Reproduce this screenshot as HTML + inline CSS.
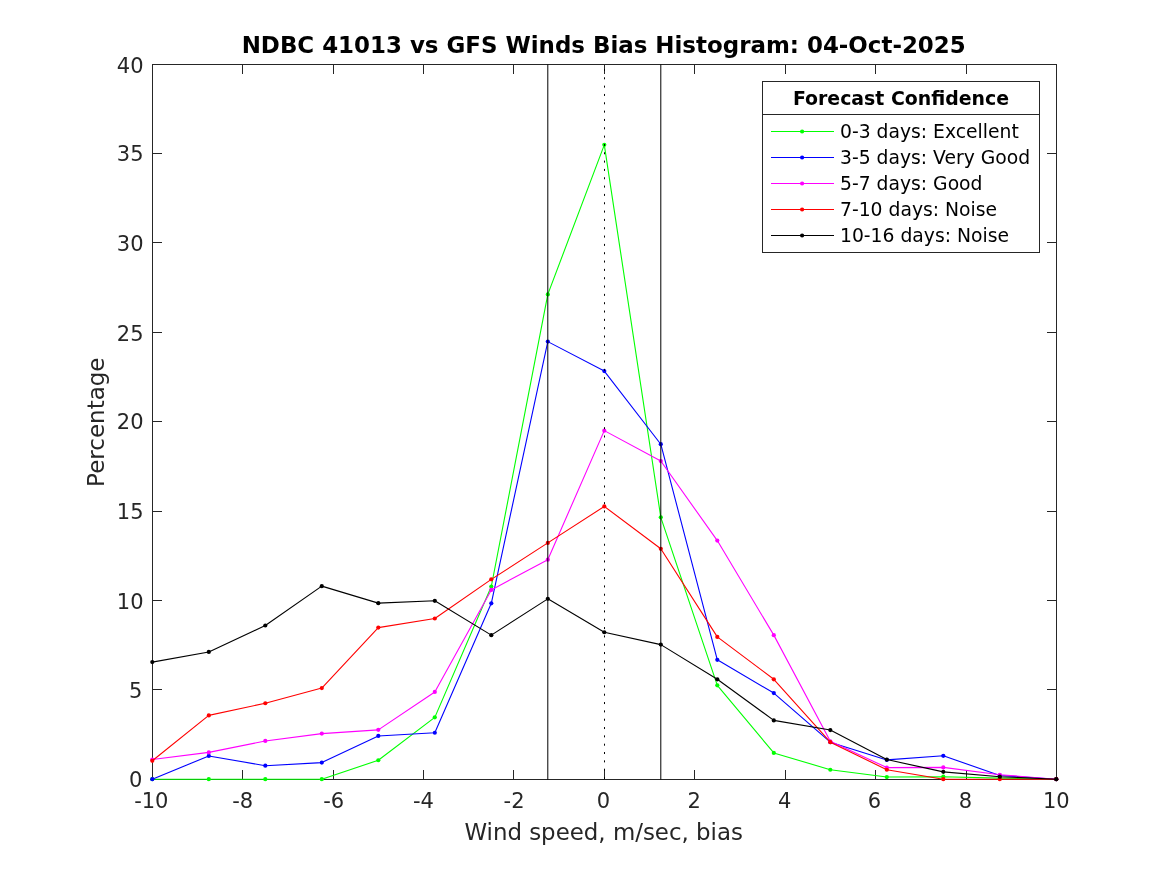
<!DOCTYPE html>
<html><head><meta charset="utf-8"><title>NDBC 41013 vs GFS Winds Bias Histogram</title>
<style>html,body{margin:0;padding:0;background:#fff;overflow:hidden;}svg{display:block;}</style>
</head><body>
<svg width="1167" height="875" viewBox="0 0 1167 875">
<rect x="0" y="0" width="1167" height="875" fill="#ffffff"/>
<path d="M152.5 779.5V770.0M152.5 64.5V74.0M242.5 779.5V770.0M242.5 64.5V74.0M333.5 779.5V770.0M333.5 64.5V74.0M423.5 779.5V770.0M423.5 64.5V74.0M513.5 779.5V770.0M513.5 64.5V74.0M604.5 779.5V770.0M604.5 64.5V74.0M694.5 779.5V770.0M694.5 64.5V74.0M785.5 779.5V770.0M785.5 64.5V74.0M875.5 779.5V770.0M875.5 64.5V74.0M966.5 779.5V770.0M966.5 64.5V74.0M1056.5 779.5V770.0M1056.5 64.5V74.0M152.5 779.5H162.0M1056.5 779.5H1047.0M152.5 689.5H162.0M1056.5 689.5H1047.0M152.5 600.5H162.0M1056.5 600.5H1047.0M152.5 511.5H162.0M1056.5 511.5H1047.0M152.5 421.5H162.0M1056.5 421.5H1047.0M152.5 332.5H162.0M1056.5 332.5H1047.0M152.5 242.5H162.0M1056.5 242.5H1047.0M152.5 153.5H162.0M1056.5 153.5H1047.0M152.5 64.5H162.0M1056.5 64.5H1047.0" stroke="#262626" stroke-width="1" fill="none" shape-rendering="crispEdges"/>
<rect x="152.5" y="64.5" width="904.0" height="715.0" stroke="#262626" stroke-width="1" fill="none" shape-rendering="crispEdges"/>
<g font-family="'DejaVu Sans', 'Liberation Sans', sans-serif" font-size="21" fill="#262626">
<text x="151.30" y="808.4" text-anchor="middle">-10</text>
<text x="242.75" y="808.4" text-anchor="middle">-8</text>
<text x="333.65" y="808.4" text-anchor="middle">-6</text>
<text x="423.50" y="808.4" text-anchor="middle">-4</text>
<text x="514.10" y="808.4" text-anchor="middle">-2</text>
<text x="603.45" y="808.4" text-anchor="middle">0</text>
<text x="694.10" y="808.4" text-anchor="middle">2</text>
<text x="784.70" y="808.4" text-anchor="middle">4</text>
<text x="874.50" y="808.4" text-anchor="middle">6</text>
<text x="965.40" y="808.4" text-anchor="middle">8</text>
<text x="1056.30" y="808.4" text-anchor="middle">10</text>
<text x="142.30" y="786.90" text-anchor="end">0</text>
<text x="142.30" y="697.63" text-anchor="end">5</text>
<text x="143.50" y="608.65" text-anchor="end">10</text>
<text x="143.50" y="519.28" text-anchor="end">15</text>
<text x="143.50" y="429.40" text-anchor="end">20</text>
<text x="143.50" y="340.53" text-anchor="end">25</text>
<text x="143.50" y="251.15" text-anchor="end">30</text>
<text x="143.50" y="161.28" text-anchor="end">35</text>
<text x="143.50" y="72.70" text-anchor="end">40</text>
</g>
<text x="603.65" y="840.1" text-anchor="middle" font-family="'DejaVu Sans', 'Liberation Sans', sans-serif" font-size="22.9" fill="#262626">Wind speed, m/sec, bias</text>
<text transform="translate(104 422.2) rotate(-90)" text-anchor="middle" font-family="'DejaVu Sans', 'Liberation Sans', sans-serif" font-size="23" fill="#262626">Percentage</text>
<text x="603.7" y="52.8" text-anchor="middle" font-family="'DejaVu Sans', 'Liberation Sans', sans-serif" font-size="22.93" font-weight="bold" fill="#000">NDBC 41013 vs GFS Winds Bias Histogram: 04-Oct-2025</text>
<polyline points="152.30,779.20 208.80,779.20 265.30,779.20 321.80,779.20 378.30,760.25 434.80,717.35 491.30,586.51 547.80,294.43 604.30,144.82 660.80,517.33 717.30,685.36 773.80,752.92 830.30,769.73 886.80,777.06 943.30,776.70 999.80,778.13 1056.30,779.20" stroke="#00ff00" stroke-width="1.1" fill="none" stroke-linejoin="round"/>
<g fill="#00ff00"><circle cx="152.30" cy="779.20" r="2.1"/><circle cx="208.80" cy="779.20" r="2.1"/><circle cx="265.30" cy="779.20" r="2.1"/><circle cx="321.80" cy="779.20" r="2.1"/><circle cx="378.30" cy="760.25" r="2.1"/><circle cx="434.80" cy="717.35" r="2.1"/><circle cx="491.30" cy="586.51" r="2.1"/><circle cx="547.80" cy="294.43" r="2.1"/><circle cx="604.30" cy="144.82" r="2.1"/><circle cx="660.80" cy="517.33" r="2.1"/><circle cx="717.30" cy="685.36" r="2.1"/><circle cx="773.80" cy="752.92" r="2.1"/><circle cx="830.30" cy="769.73" r="2.1"/><circle cx="886.80" cy="777.06" r="2.1"/><circle cx="943.30" cy="776.70" r="2.1"/><circle cx="999.80" cy="778.13" r="2.1"/><circle cx="1056.30" cy="779.20" r="2.1"/></g>
<polyline points="152.30,779.20 208.80,755.96 265.30,765.70 321.80,762.58 378.30,735.94 434.80,732.73 491.30,603.31 547.80,341.62 604.30,371.11 660.80,444.22 717.30,659.80 773.80,693.04 830.30,742.20 886.80,759.90 943.30,755.78 999.80,775.45 1056.30,779.20" stroke="#0000ff" stroke-width="1.1" fill="none" stroke-linejoin="round"/>
<g fill="#0000ff"><circle cx="152.30" cy="779.20" r="2.1"/><circle cx="208.80" cy="755.96" r="2.1"/><circle cx="265.30" cy="765.70" r="2.1"/><circle cx="321.80" cy="762.58" r="2.1"/><circle cx="378.30" cy="735.94" r="2.1"/><circle cx="434.80" cy="732.73" r="2.1"/><circle cx="491.30" cy="603.31" r="2.1"/><circle cx="547.80" cy="341.62" r="2.1"/><circle cx="604.30" cy="371.11" r="2.1"/><circle cx="660.80" cy="444.22" r="2.1"/><circle cx="717.30" cy="659.80" r="2.1"/><circle cx="773.80" cy="693.04" r="2.1"/><circle cx="830.30" cy="742.20" r="2.1"/><circle cx="886.80" cy="759.90" r="2.1"/><circle cx="943.30" cy="755.78" r="2.1"/><circle cx="999.80" cy="775.45" r="2.1"/><circle cx="1056.30" cy="779.20" r="2.1"/></g>
<polyline points="152.30,759.54 208.80,752.39 265.30,740.95 321.80,733.62 378.30,729.87 434.80,691.97 491.30,589.90 547.80,559.70 604.30,430.64 660.80,461.03 717.30,540.57 773.80,635.13 830.30,741.31 886.80,767.58 943.30,767.40 999.80,774.73 1056.30,779.20" stroke="#ff00ff" stroke-width="1.1" fill="none" stroke-linejoin="round"/>
<g fill="#ff00ff"><circle cx="152.30" cy="759.54" r="2.1"/><circle cx="208.80" cy="752.39" r="2.1"/><circle cx="265.30" cy="740.95" r="2.1"/><circle cx="321.80" cy="733.62" r="2.1"/><circle cx="378.30" cy="729.87" r="2.1"/><circle cx="434.80" cy="691.97" r="2.1"/><circle cx="491.30" cy="589.90" r="2.1"/><circle cx="547.80" cy="559.70" r="2.1"/><circle cx="604.30" cy="430.64" r="2.1"/><circle cx="660.80" cy="461.03" r="2.1"/><circle cx="717.30" cy="540.57" r="2.1"/><circle cx="773.80" cy="635.13" r="2.1"/><circle cx="830.30" cy="741.31" r="2.1"/><circle cx="886.80" cy="767.58" r="2.1"/><circle cx="943.30" cy="767.40" r="2.1"/><circle cx="999.80" cy="774.73" r="2.1"/><circle cx="1056.30" cy="779.20" r="2.1"/></g>
<polyline points="152.30,760.79 208.80,715.39 265.30,703.23 321.80,688.04 378.30,627.62 434.80,618.50 491.30,579.36 547.80,542.89 604.30,506.43 660.80,548.79 717.30,636.92 773.80,679.28 830.30,742.20 886.80,769.73 943.30,779.20 999.80,779.20 1056.30,779.20" stroke="#ff0000" stroke-width="1.1" fill="none" stroke-linejoin="round"/>
<g fill="#ff0000"><circle cx="152.30" cy="760.79" r="2.1"/><circle cx="208.80" cy="715.39" r="2.1"/><circle cx="265.30" cy="703.23" r="2.1"/><circle cx="321.80" cy="688.04" r="2.1"/><circle cx="378.30" cy="627.62" r="2.1"/><circle cx="434.80" cy="618.50" r="2.1"/><circle cx="491.30" cy="579.36" r="2.1"/><circle cx="547.80" cy="542.89" r="2.1"/><circle cx="604.30" cy="506.43" r="2.1"/><circle cx="660.80" cy="548.79" r="2.1"/><circle cx="717.30" cy="636.92" r="2.1"/><circle cx="773.80" cy="679.28" r="2.1"/><circle cx="830.30" cy="742.20" r="2.1"/><circle cx="886.80" cy="769.73" r="2.1"/><circle cx="943.30" cy="779.20" r="2.1"/><circle cx="999.80" cy="779.20" r="2.1"/><circle cx="1056.30" cy="779.20" r="2.1"/></g>
<polyline points="152.30,662.12 208.80,651.93 265.30,625.48 321.80,586.15 378.30,603.13 434.80,600.81 491.30,635.13 547.80,598.84 604.30,632.27 660.80,644.60 717.30,679.28 773.80,720.39 830.30,730.04 886.80,759.54 943.30,771.87 999.80,776.70 1056.30,779.20" stroke="#000000" stroke-width="1.1" fill="none" stroke-linejoin="round"/>
<g fill="#000000"><circle cx="152.30" cy="662.12" r="2.1"/><circle cx="208.80" cy="651.93" r="2.1"/><circle cx="265.30" cy="625.48" r="2.1"/><circle cx="321.80" cy="586.15" r="2.1"/><circle cx="378.30" cy="603.13" r="2.1"/><circle cx="434.80" cy="600.81" r="2.1"/><circle cx="491.30" cy="635.13" r="2.1"/><circle cx="547.80" cy="598.84" r="2.1"/><circle cx="604.30" cy="632.27" r="2.1"/><circle cx="660.80" cy="644.60" r="2.1"/><circle cx="717.30" cy="679.28" r="2.1"/><circle cx="773.80" cy="720.39" r="2.1"/><circle cx="830.30" cy="730.04" r="2.1"/><circle cx="886.80" cy="759.54" r="2.1"/><circle cx="943.30" cy="771.87" r="2.1"/><circle cx="999.80" cy="776.70" r="2.1"/><circle cx="1056.30" cy="779.20" r="2.1"/></g>
<path d="M547.80 779.5V64.5M660.80 779.5V64.5" stroke="#000" stroke-width="1" fill="none"/>
<path d="M604.5 64.5V779.5" stroke="#000" stroke-width="1" stroke-dasharray="2 6.33" stroke-dashoffset="3.86" fill="none"/>
<rect x="762.5" y="81.5" width="277.0" height="171.0" fill="#fff" stroke="#262626" stroke-width="1" shape-rendering="crispEdges"/>
<path d="M762.5 114.5H1039.5" stroke="#262626" stroke-width="1" shape-rendering="crispEdges"/>
<text x="901.00" y="104.6" text-anchor="middle" font-family="'DejaVu Sans', 'Liberation Sans', sans-serif" font-size="18.9" font-weight="bold" fill="#000">Forecast Confidence</text>
<path d="M771 131.50H834" stroke="#00ff00" stroke-width="1" shape-rendering="crispEdges"/>
<circle cx="802.1" cy="131.50" r="2.1" fill="#00ff00"/>
<text x="840" y="138.20" font-family="'DejaVu Sans', 'Liberation Sans', sans-serif" font-size="18.75" fill="#000">0-3 days: Excellent</text>
<path d="M771 157.50H834" stroke="#0000ff" stroke-width="1" shape-rendering="crispEdges"/>
<circle cx="802.1" cy="157.50" r="2.1" fill="#0000ff"/>
<text x="840" y="164.20" font-family="'DejaVu Sans', 'Liberation Sans', sans-serif" font-size="18.75" fill="#000">3-5 days: Very Good</text>
<path d="M771 183.50H834" stroke="#ff00ff" stroke-width="1" shape-rendering="crispEdges"/>
<circle cx="802.1" cy="183.50" r="2.1" fill="#ff00ff"/>
<text x="840" y="190.20" font-family="'DejaVu Sans', 'Liberation Sans', sans-serif" font-size="18.75" fill="#000">5-7 days: Good</text>
<path d="M771 209.50H834" stroke="#ff0000" stroke-width="1" shape-rendering="crispEdges"/>
<circle cx="802.1" cy="209.50" r="2.1" fill="#ff0000"/>
<text x="840" y="216.20" font-family="'DejaVu Sans', 'Liberation Sans', sans-serif" font-size="18.75" fill="#000">7-10 days: Noise</text>
<path d="M771 235.50H834" stroke="#000000" stroke-width="1" shape-rendering="crispEdges"/>
<circle cx="802.1" cy="235.50" r="2.1" fill="#000000"/>
<text x="840" y="242.20" font-family="'DejaVu Sans', 'Liberation Sans', sans-serif" font-size="18.75" fill="#000">10-16 days: Noise</text>
</svg>
</body></html>
